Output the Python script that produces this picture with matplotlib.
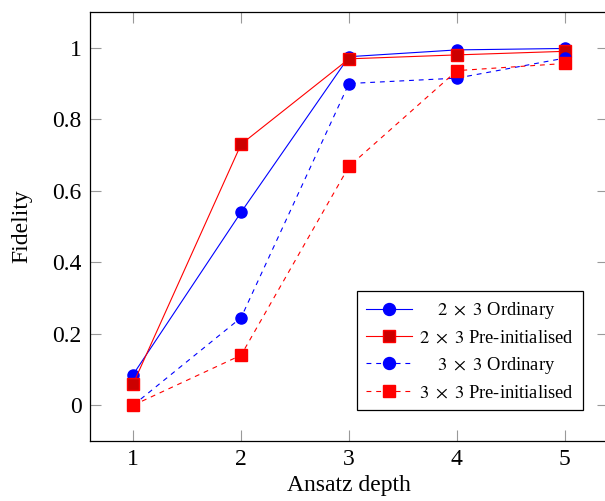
import matplotlib.pyplot as plt

plt.rcParams['font.family'] = ['Liberation Serif', 'DejaVu Serif']
plt.rcParams['mathtext.fontset'] = 'stix'
plt.rcParams['lines.scale_dashes'] = False

# Data
depths = [1, 2, 3, 4, 5]
ord_2x3 = [0.086, 0.54, 0.975, 0.994, 0.998]
pre_2x3 = [0.06, 0.73, 0.969, 0.98, 0.99]
ord_3x3 = [0.0, 0.245, 0.90, 0.915, 0.971]
pre_3x3 = [0.0, 0.14, 0.668, 0.936, 0.956]
labels = ['    $2\\ \\times\\ 3$ Ordinary', '$2\\ \\times\\ 3$ Pre-initialised',
          '    $3\\ \\times\\ 3$ Ordinary', '$3\\ \\times\\ 3$ Pre-initialised']

fig = plt.figure(figsize=(6.05, 5.01), dpi=100)
# right edge of the axes falls just outside the picture, as in the reference
ax = fig.add_axes([90 / 605, 1 - 441 / 501, 518 / 605, 429 / 501])

dash = (0, (3.5, 3.5))
ax.plot(depths, ord_2x3, color='blue', lw=0.8, marker='o', ms=8,
        mfc='blue', mec='blue', label=labels[0])
ax.plot(depths, pre_2x3, color='red', lw=0.8, marker='s', ms=8,
        mfc='#cc0000', mec='red', label=labels[1])
ax.plot(depths, ord_3x3, color='blue', lw=0.8, ls=dash, marker='o', ms=8,
        mfc='blue', mec='blue', label=labels[2])
ax.plot(depths, pre_3x3, color='red', lw=0.8, ls=dash, marker='s', ms=8,
        mfc='red', mec='red', label=labels[3])

ax.set_xlim(0.6, 5.4)
ax.set_ylim(-0.1, 1.1)
ax.set_xticks(depths)
ax.set_yticks([0, 0.2, 0.4, 0.6, 0.8, 1])
ax.set_yticklabels(['0', '0.2', '0.4', '0.6', '0.8', '1'])
ax.tick_params(direction='in', top=True, right=True, length=8,
               color='#999999', labelsize=17, pad=6)
for s in ax.spines.values():
    s.set_linewidth(0.9)

ax.set_xlabel('Ansatz depth', fontsize=17, labelpad=3)
ax.set_ylabel('Fidelity', fontsize=17, labelpad=14)

leg = ax.legend(loc='upper left', bbox_to_anchor=(267 / 518, 150 / 429),
                borderaxespad=0, fontsize=13.3, numpoints=1,
                handlelength=2.5, handletextpad=0.35, fancybox=False,
                edgecolor='black', framealpha=1, labelspacing=0.45,
                borderpad=0.5)
leg.get_frame().set_linewidth(0.9)
for h in leg.legend_handles:
    h.set_markersize(8.6)

fig.savefig('out.png', dpi=100)
